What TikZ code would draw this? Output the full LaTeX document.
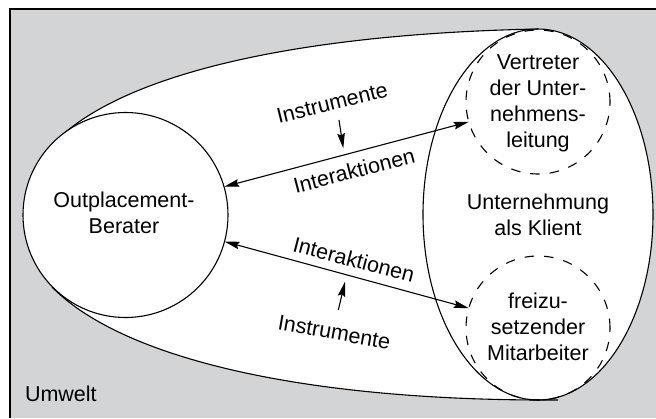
\documentclass[tikz,border=0pt]{standalone}
\usepackage{fontspec}
\setmainfont{Liberation Sans}
\usetikzlibrary{shapes.geometric,arrows.meta}
\definecolor{umweltgray}{RGB}{211,212,214}
\begin{document}
\begin{tikzpicture}[x=1pt,y=-1pt,
  line width=1.1pt,
  txt/.style={font=\fontsize{21.5}{25.7}\selectfont, inner sep=0pt, outer sep=0pt, align=center},
  dashcircle/.style={circle, draw, dash pattern=on 9.5pt off 10pt, minimum size=144pt, inner sep=0pt, outer sep=0pt},
  tipstyle/.style={-{Stealth[length=15pt,width=7.5pt,inset=2pt]}},
  bothtips/.style={{Stealth[length=15pt,width=7.5pt,inset=2pt]}-{Stealth[length=15pt,width=7.5pt,inset=2pt]}}
]
\useasboundingbox (0,0) rectangle (656,418);
% environment frame
\fill[umweltgray] (10,9) rectangle (656,418);
\draw (10,418) -- (10,9) -- (656,9);
% envelope fill
\fill[white] (50,147) .. controls (113.6,76.4) and (288,34) .. (538,29)
  -- (538,400) .. controls (288,399) and (118.5,354.8) .. (52,287) -- cycle;
% company ellipse
\node[ellipse, draw, fill=white, minimum width=230pt, minimum height=371pt, inner sep=0pt, outer sep=0pt] (uk) at (538,214.5) {};
% envelope outline
\draw (50,147) .. controls (113.6,76.4) and (288,34) .. (538,29);
\draw (52,287) .. controls (118.5,354.8) and (288,399) .. (538,400) -- (558,400);
% consultant circle
\node[circle, draw, fill=white, minimum size=205pt, inner sep=0pt, outer sep=0pt] (ob) at (125.5,215) {};
% dashed circles
\node[dashcircle] (vt) at (538,102) {};
\node[dashcircle] (mf) at (538,328) {};
% texts (base anchor = baseline of the last line)
\node[txt, anchor=base] (obt) at (124,233) {Outplacement-\\Berater};
\node[txt, anchor=base] (vtt) at (538,147) {Vertreter\\der Unter-\\nehmens-\\leitung};
\node[txt, anchor=base] (ukt) at (538,235) {Unternehmung\\als Klient};
\node[txt, anchor=base] (mft) at (538,360) {freizu-\\setzender\\Mitarbeiter};
\node[txt, anchor=base west] (um) at (25,401) {Umwelt};
% interaction arrows
\draw[bothtips] (ob.16) -- (vt.196);
\draw[bothtips] (ob.-15) -- (mf.164);
\node[txt, anchor=base, rotate=14] (ins1) at (334,110) {Instrumente};
\node[txt, anchor=base, rotate=14.5] (int1) at (356,178) {Interaktionen};
\node[txt, anchor=base, rotate=-14.6] (int2) at (352,267) {Interaktionen};
\node[txt, anchor=base, rotate=-10] (ins2) at (333,339.5) {Instrumente};
% instrument arrows
\coordinate (a1s) at (339,120);
\coordinate (a1e) at (343.3,148.3);
\coordinate (a2s) at (338.3,310);
\coordinate (a2e) at (345,281.7);
\draw[tipstyle] (a1s) -- (a1e);
\draw[tipstyle] (a2s) -- (a2e);
\end{tikzpicture}
\end{document}
